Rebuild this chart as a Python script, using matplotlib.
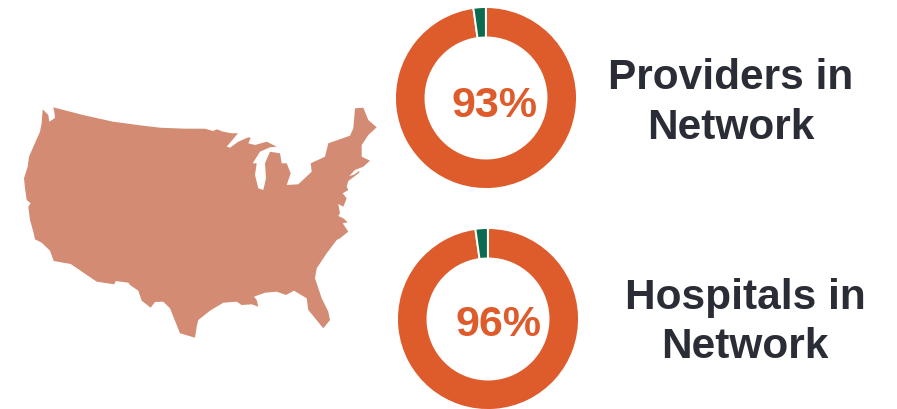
"""
US network coverage: map outline with two donuts.
"""
import matplotlib
matplotlib.use('Agg')
import matplotlib.pyplot as plt
from matplotlib.patches import Polygon

plt.rcParams['font.family'] = ['Liberation Sans', 'DejaVu Sans']

W, H = 897, 409

# ── Data ──────────────────────────────────────────────────────────────────────
donut_labels = ['93%', '96%']
captions = ['Providers in\nNetwork', 'Hospitals in\nNetwork']
# drawn shares of the rings: read off the picture, not the printed percent
provider_shares = [97.8, 2.2]
hospital_shares = [97.8, 2.2]

# map outline in image pixels, clockwise from the Olympic peninsula
map_x = [42.7, 48.3, 49.3, 55, 54.3, 53.3, 83, 113, 140, 160, 185, 205, 213, 217, 223, 232, 238,
         226.7, 230, 238.3, 248.3, 250.7, 248.3, 255, 266.7, 276.7, 270, 260, 252.7, 256.7, 255,
         258.3, 263.3, 266, 265, 270, 280, 281.7, 286.7, 290.7, 286.7, 298.3, 311.7, 310.7, 325,
         328.3, 350, 353.3, 355, 363.3, 368.3, 376.7, 368.3, 361.7, 361.7, 370, 363.3, 355, 349.3,
         353.3, 359.3, 359.3, 348.3, 346.7, 348.3, 342.7, 346.7, 343.3, 338.3, 340, 338.3, 343.3,
         347.7, 342.7, 345, 348.3, 340, 336.7, 326.7, 316.7, 315, 321.7, 328.3, 330, 323.3, 308.3,
         306.7, 294, 286, 276.7, 265, 254, 256.7, 258.3, 251.7, 241.7, 236.7, 223.3, 210, 198.3,
         196.7, 195, 180, 170, 163.3, 155, 150.7, 141.7, 138.3, 130, 128.3, 115.7, 114.3, 96.7,
         70.7, 53.7, 50, 41.7, 35, 33.3, 30, 28.3, 30.7, 26.7, 25, 24, 27.7, 29, 35, 40, 41.7]
map_y = [109.3, 115, 121.7, 118, 111.7, 107.3, 115, 121.7, 125.3, 127.7, 128.7, 128.7, 131, 129.3, 131.7, 133.3, 133.3,
         146.7, 147.7, 141.7, 137.3, 138, 143.3, 145, 141.7, 146.7, 147.3, 151.7, 163.3, 163.3, 175,
         188.3, 190, 178.3, 163.3, 151.7, 153.3, 163.3, 163.3, 173.3, 185, 184.3, 171.7, 163.3, 156.7,
         143.3, 135.7, 128.3, 108.3, 107.7, 120, 127.3, 135, 145, 156.7, 160.7, 166.7, 170, 176,
         175, 171, 172.7, 181, 186.7, 190, 193.3, 198.3, 206.7, 204, 213.3, 216, 218.3,
         222.3, 223.3, 226.7, 231.7, 238.3, 240, 253.3, 268.3, 278.3, 298.3, 311.7, 320, 328.3, 310,
         298.3, 290.7, 295, 291.7, 292.7, 296.7, 300, 306.7, 304.3, 305, 301.7, 302.7, 310.7, 320,
         326.7, 337.7, 333.3, 308.3, 301.7, 302, 307.7, 300.7, 290.7, 285, 282.7, 281, 284.3, 281.7,
         264, 261, 250.7, 242.7, 239.3, 231.7, 220, 206.7, 203.3, 200, 188.3, 178.3, 166.7, 156.7, 143, 131.7, 122.7]

ORANGE = '#DE5B2B'
GREEN = '#0B6B4F'
MAP_COL = '#D38C73'
DARK = '#2B2D36'


def px_axes(fig, x0, y0, x1, y1):
    # axes from pixel box, y counted from the top
    return fig.add_axes([x0 / W, 1 - y1 / H, (x1 - x0) / W, (y1 - y0) / H])


def donut(fig, cx, cy, r, shares, label, tx, ty):
    ax = px_axes(fig, cx - r, cy - r, cx + r, cy + r)
    ax.pie(shares, colors=[ORANGE, GREEN], startangle=98, counterclock=True,
           radius=1.0, wedgeprops=dict(width=0.335, edgecolor='white', linewidth=1.4))
    ax.set_xlim(-1, 1)
    ax.set_ylim(-1, 1)
    ax.text(tx, ty, label, ha='center', va='center', fontsize=31,
            fontweight='bold', color=ORANGE)


# ── Figure ────────────────────────────────────────────────────────────────────
fig = plt.figure(figsize=(W / 100, H / 100), dpi=100)
fig.patch.set_facecolor('white')

ax_map = fig.add_axes([0, 0, 1, 1])
ax_map.set_xlim(0, W)
ax_map.set_ylim(H, 0)
ax_map.axis('off')
ax_map.add_patch(Polygon(list(zip(map_x, map_y)), closed=True,
                         facecolor=MAP_COL, edgecolor='none'))

ax_map.text(731, 103, captions[0], ha='center', va='center', fontsize=30.5,
            fontweight='bold', color=DARK, linespacing=1.33)
ax_map.text(745, 322.5, captions[1], ha='center', va='center', fontsize=30.5,
            fontweight='bold', color=DARK, linespacing=1.3)

donut(fig, 486, 98, 91, provider_shares, donut_labels[0], 0.093, -0.086)
donut(fig, 488, 319, 91, hospital_shares, donut_labels[1], 0.115, -0.064)

fig.savefig('out.png', dpi=100, facecolor='white')
